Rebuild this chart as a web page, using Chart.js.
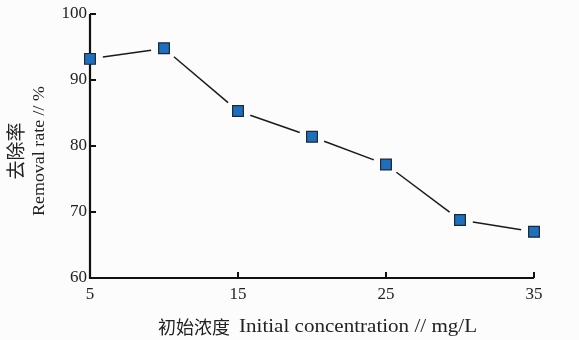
<!DOCTYPE html>
<html>
<head>
<meta charset="utf-8">
<script src="https://cdn.jsdelivr.net/npm/chart.js@4/dist/chart.umd.min.js"></script>
<style>
  html, body { margin: 0; padding: 0; background: #fcfcfc; }
</style>
</head>
<body>
<canvas id="removal" width="579" height="340"></canvas>
<script>
// initial concentration (mg/L) and removal rate (%)
var concentration = [5, 10, 15, 20, 25, 30, 35]
var removalRate = [93.2, 94.8, 85.3, 81.4, 77.2, 68.8, 67.0]
var xTicks = [5, 15, 25, 35]
var yTicks = [60, 70, 80, 90, 100]

var serif = '"Liberation Serif", "DejaVu Serif", serif'
var cjk = '"Noto Sans CJK SC", "Noto Sans CJK TC", sans-serif'

// line segments that stop short of the markers
var gappedLine = {
  id: 'gappedLine',
  beforeDatasetsDraw: function (chart) {
    var pts = chart.getDatasetMeta(0).data
    var ctx = chart.ctx
    var gap = 13
    ctx.save()
    ctx.strokeStyle = '#1a1a1a'
    ctx.lineWidth = 1.5
    for (var i = 0; i < pts.length - 1; i++) {
      var a = pts[i], b = pts[i + 1]
      var dx = b.x - a.x, dy = b.y - a.y
      var len = Math.sqrt(dx * dx + dy * dy)
      var ux = dx / len, uy = dy / len
      ctx.beginPath()
      ctx.moveTo(a.x + ux * gap, a.y + uy * gap)
      ctx.lineTo(b.x - ux * gap, b.y - uy * gap)
      ctx.stroke()
    }
    ctx.restore()
  }
}

// stretched text helper: draws str so that it spans the given width
function fillStretched(ctx, str, x, y, width) {
  var w = ctx.measureText(str).width
  ctx.save()
  ctx.translate(x, y)
  ctx.scale(width / w, 1)
  ctx.fillText(str, 0, 0)
  ctx.restore()
}

// axes with inward tick marks and the two-font titles
var axesDeco = {
  id: 'axesDeco',
  beforeDatasetsDraw: function (chart) {
    var ctx = chart.ctx
    var x = chart.scales.x, y = chart.scales.y
    var area = chart.chartArea
    ctx.save()
    ctx.strokeStyle = '#111'
    ctx.lineWidth = 2.2
    ctx.beginPath()
    ctx.moveTo(area.left, area.top)
    ctx.lineTo(area.left, area.bottom)
    ctx.lineTo(area.right, area.bottom)
    ctx.stroke()
    ctx.lineWidth = 2
    xTicks.forEach(function (v) {
      var px = x.getPixelForValue(v)
      ctx.beginPath(); ctx.moveTo(px, area.bottom); ctx.lineTo(px, area.bottom - 6); ctx.stroke()
    })
    yTicks.forEach(function (v) {
      var py = y.getPixelForValue(v)
      ctx.beginPath(); ctx.moveTo(area.left, py); ctx.lineTo(area.left + 6, py); ctx.stroke()
    })

    ctx.fillStyle = '#222'
    ctx.textBaseline = 'middle'
    ctx.textAlign = 'left'
    // x title
    ctx.font = '18px ' + cjk
    ctx.fillText('初始浓度', 158, 327)
    ctx.font = '18px ' + serif
    fillStretched(ctx, 'Initial concentration // mg/L', 239, 327, 238)

    // y title, rotated
    ctx.translate(0, 151)
    ctx.rotate(-Math.PI / 2)
    ctx.textAlign = 'center'
    ctx.font = '19px ' + cjk
    ctx.fillText('去除率', 0, 16)
    ctx.font = '17px ' + serif
    ctx.textAlign = 'left'
    fillStretched(ctx, 'Removal rate // %', -65, 40, 130)
    ctx.restore()
  }
}

new Chart(document.getElementById('removal'), {
  type: 'scatter',
  data: {
    datasets: [{
      data: concentration.map(function (c, i) { return {x: c, y: removalRate[i]} }),
      showLine: false,
      pointStyle: 'rect',
      pointRadius: 7.6,
      pointHoverRadius: 7.6,
      pointBackgroundColor: '#1f6fbf',
      pointBorderColor: '#1c2833',
      pointBorderWidth: 1.2,
      clip: false
    }]
  },
  options: {
    responsive: false,
    animation: false,
    devicePixelRatio: 1,
    layout: {padding: {top: 14, right: 45, left: 0, bottom: 0}},
    plugins: {legend: {display: false}, tooltip: {enabled: false}},
    scales: {
      x: {
        type: 'linear',
        min: 5,
        max: 35,
        afterBuildTicks: function (s) { s.ticks = xTicks.map(function (v) { return {value: v} }) },
        afterFit: function (s) { s.height = 62 },
        grid: {display: false, drawTicks: false},
        border: {display: false},
        ticks: {color: '#222', padding: 6, autoSkip: false, maxRotation: 0, font: {family: serif, size: 17}}
      },
      y: {
        min: 60,
        max: 100,
        afterBuildTicks: function (s) { s.ticks = yTicks.map(function (v) { return {value: v} }) },
        afterFit: function (s) { s.width = 90 },
        grid: {display: false, drawTicks: false},
        border: {display: false},
        ticks: {color: '#222', padding: 3, autoSkip: false, font: {family: serif, size: 17}}
      }
    }
  },
  plugins: [gappedLine, axesDeco]
})
</script>
</body>
</html>
